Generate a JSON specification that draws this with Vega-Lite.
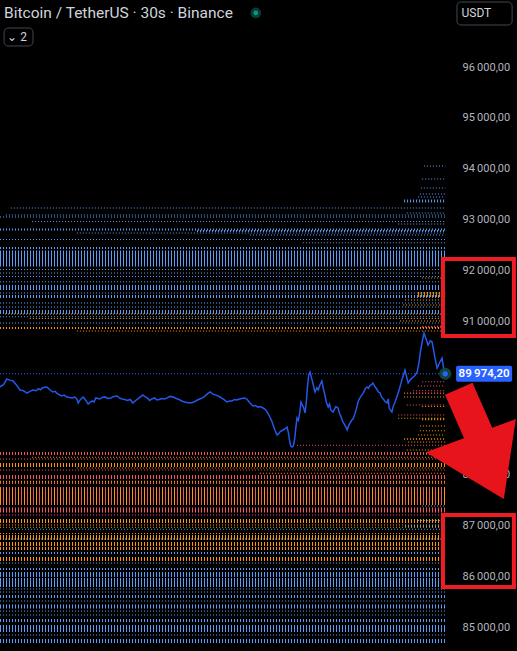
{
  "$schema": "https://vega.github.io/schema/vega-lite/v6.json",
  "width": 452,
  "height": 601,
  "autosize": "none",
  "padding": {"top": 50, "left": 0, "right": 65, "bottom": 0},
  "background": "#000000",
  "config": {
    "view": {"stroke": null},
    "locale": {"number": {"decimal": ",", "thousands": "\u2009", "grouping": [3], "currency": ["", ""]}}
  },
  "datasets": {
    "levels": [
      {"p": 94055, "d": 20, "t": 93.8, "s": "a"},
      {"p": 93800, "d": 20, "t": 93.4, "s": "a"},
      {"p": 93623, "d": 20, "t": 93.1, "s": "a"},
      {"p": 93505, "d": 20, "t": 92.9, "s": "a"},
      {"p": 93446, "d": 20, "t": 92.5, "s": "a"},
      {"p": 93368, "d": 59, "t": 89.4, "s": "a"},
      {"p": 93230, "d": 20, "t": 2.4, "s": "a"},
      {"p": 93132, "d": 20, "t": 90.0, "s": "a"},
      {"p": 93093, "d": 20, "t": 1.3, "s": "a"},
      {"p": 93054, "d": 20, "t": 0, "s": "a"},
      {"p": 92965, "d": 20, "t": 7.1, "s": "a"},
      {"p": 92916, "d": 20, "t": 88.1, "s": "a"},
      {"p": 92808, "d": 39, "t": 0, "s": "a"},
      {"p": 92779, "d": 39, "t": 43.6, "s": "a"},
      {"p": 92739, "d": 20, "t": 17.0, "s": "a"},
      {"p": 92700, "d": 20, "t": 55.3, "s": "a"},
      {"p": 92612, "d": 20, "t": 0, "s": "a"},
      {"p": 92549, "d": 20, "t": 67.0, "s": "a"},
      {"p": 92445, "d": 39, "t": 0, "s": "a"},
      {"p": 92238, "d": 314, "t": 0, "s": "a"},
      {"p": 92022, "d": 20, "t": 0, "s": "a"},
      {"p": 91954, "d": 20, "t": 0, "s": "a"},
      {"p": 91885, "d": 20, "t": 0, "s": "a"},
      {"p": 91855, "d": 20, "t": 93.4, "s": "o"},
      {"p": 91783, "d": 20, "t": 0, "s": "a"},
      {"p": 91669, "d": 98, "t": 0, "s": "a"},
      {"p": 91561, "d": 20, "t": 0, "s": "a"},
      {"p": 91531, "d": 98, "t": 92.5, "s": "o"},
      {"p": 91492, "d": 59, "t": 0, "s": "a"},
      {"p": 91423, "d": 20, "t": 89.6, "s": "o"},
      {"p": 91364, "d": 20, "t": 0, "s": "a"},
      {"p": 91325, "d": 20, "t": 89.2, "s": "o"},
      {"p": 91286, "d": 20, "t": 0, "s": "a"},
      {"p": 91187, "d": 79, "t": 0, "s": "a"},
      {"p": 91148, "d": 20, "t": 1.1, "s": "o"},
      {"p": 91095, "d": 20, "t": 0, "s": "a"},
      {"p": 91060, "d": 20, "t": 6.6, "s": "o"},
      {"p": 91011, "d": 20, "t": 88.5, "s": "o"},
      {"p": 90971, "d": 20, "t": 0, "s": "a"},
      {"p": 90899, "d": 39, "t": 93.4, "s": "r"},
      {"p": 90873, "d": 39, "t": 0, "s": "o"},
      {"p": 90814, "d": 20, "t": 17.0, "s": "o"},
      {"p": 89818, "d": 20, "t": 93.4, "s": "r"},
      {"p": 89734, "d": 20, "t": 92.5, "s": "r"},
      {"p": 89642, "d": 20, "t": 91.4, "s": "r"},
      {"p": 89590, "d": 30, "t": 89.4, "s": "r"},
      {"p": 89518, "d": 20, "t": 89.4, "s": "o"},
      {"p": 89361, "d": 20, "t": 90.0, "s": "r"},
      {"p": 89330, "d": 20, "t": 93.4, "s": "o"},
      {"p": 89164, "d": 20, "t": 88.1, "s": "r"},
      {"p": 89099, "d": 20, "t": 88.1, "s": "o"},
      {"p": 89080, "d": 39, "t": 93.4, "s": "o"},
      {"p": 88948, "d": 20, "t": 92.9, "s": "o"},
      {"p": 88856, "d": 20, "t": 92.9, "s": "o"},
      {"p": 88771, "d": 20, "t": 92.5, "s": "o"},
      {"p": 88693, "d": 30, "t": 89.4, "s": "o"},
      {"p": 88634, "d": 20, "t": 90.3, "s": "o"},
      {"p": 88569, "d": 20, "t": 65.7, "s": "r"},
      {"p": 88477, "d": 20, "t": 90.0, "s": "o"},
      {"p": 88408, "d": 59, "t": 0, "s": "r"},
      {"p": 88333, "d": 20, "t": 7.1, "s": "o"},
      {"p": 88300, "d": 20, "t": 0, "s": "r"},
      {"p": 88182, "d": 79, "t": 0, "s": "o"},
      {"p": 88123, "d": 20, "t": 17.0, "s": "o"},
      {"p": 88084, "d": 20, "t": 0, "s": "r"},
      {"p": 88019, "d": 20, "t": 57.5, "s": "o"},
      {"p": 87946, "d": 79, "t": 0, "s": "r"},
      {"p": 87854, "d": 39, "t": 0, "s": "o"},
      {"p": 87819, "d": 20, "t": 0, "s": "r"},
      {"p": 87573, "d": 354, "t": 0, "s": "m"},
      {"p": 87377, "d": 20, "t": 93.4, "s": "a"},
      {"p": 87298, "d": 98, "t": 0, "s": "r"},
      {"p": 87200, "d": 20, "t": 0, "s": "r"},
      {"p": 87082, "d": 79, "t": 0, "s": "o"},
      {"p": 87092, "d": 20, "t": 92.5, "s": "a"},
      {"p": 87003, "d": 20, "t": 0, "s": "o"},
      {"p": 86984, "d": 39, "t": 89.6, "s": "a"},
      {"p": 86958, "d": 20, "t": 0, "s": "o"},
      {"p": 86919, "d": 20, "t": 2.2, "s": "a"},
      {"p": 86837, "d": 20, "t": 0, "s": "o"},
      {"p": 86758, "d": 98, "t": 0, "s": "o"},
      {"p": 86729, "d": 20, "t": 1.1, "s": "a"},
      {"p": 86630, "d": 79, "t": 0, "s": "o"},
      {"p": 86542, "d": 59, "t": 0, "s": "o"},
      {"p": 86454, "d": 39, "t": 0, "s": "a"},
      {"p": 86336, "d": 79, "t": 0, "s": "o"},
      {"p": 86257, "d": 20, "t": 0, "s": "a"},
      {"p": 86139, "d": 39, "t": 0, "s": "a"},
      {"p": 86031, "d": 98, "t": 0, "s": "a"},
      {"p": 85874, "d": 177, "t": 0, "s": "a"},
      {"p": 85746, "d": 20, "t": 0, "s": "a"},
      {"p": 85687, "d": 20, "t": 0, "s": "a"},
      {"p": 85599, "d": 59, "t": 0, "s": "a"},
      {"p": 85511, "d": 20, "t": 0, "s": "a"},
      {"p": 85403, "d": 79, "t": 0, "s": "a"},
      {"p": 85314, "d": 20, "t": 0, "s": "a"},
      {"p": 85236, "d": 20, "t": 0, "s": "a"},
      {"p": 85128, "d": 59, "t": 0, "s": "a"},
      {"p": 84970, "d": 137, "t": 0, "s": "a"},
      {"p": 84843, "d": 20, "t": 0, "s": "a"},
      {"p": 84725, "d": 79, "t": 0, "s": "a"}
    ],
    "series": [
      {"t": 0, "p": 89720}, {"t": 0.8, "p": 89760}, {"t": 1.5, "p": 89871}, {"t": 2.2, "p": 89850},
      {"t": 2.9, "p": 89832}, {"t": 3.6, "p": 89760}, {"t": 4.4, "p": 89655}, {"t": 5.2, "p": 89640},
      {"t": 6.0, "p": 89596}, {"t": 6.6, "p": 89630}, {"t": 7.3, "p": 89655}, {"t": 8.0, "p": 89640},
      {"t": 8.5, "p": 89680}, {"t": 9.0, "p": 89660}, {"t": 9.4, "p": 89700}, {"t": 10.4, "p": 89714},
      {"t": 11.0, "p": 89660}, {"t": 11.7, "p": 89616}, {"t": 12.2, "p": 89630}, {"t": 12.6, "p": 89590},
      {"t": 13.6, "p": 89540}, {"t": 14.2, "p": 89555}, {"t": 14.8, "p": 89518}, {"t": 16.0, "p": 89500},
      {"t": 16.5, "p": 89515}, {"t": 17.0, "p": 89479}, {"t": 17.3, "p": 89400}, {"t": 17.8, "p": 89470},
      {"t": 18.4, "p": 89518}, {"t": 19.0, "p": 89450}, {"t": 19.5, "p": 89380}, {"t": 20.0, "p": 89420},
      {"t": 20.4, "p": 89440}, {"t": 20.8, "p": 89420}, {"t": 21.2, "p": 89500}, {"t": 22.1, "p": 89479},
      {"t": 22.6, "p": 89510}, {"t": 23.2, "p": 89520}, {"t": 23.8, "p": 89490}, {"t": 24.5, "p": 89500},
      {"t": 25.2, "p": 89530}, {"t": 25.9, "p": 89537}, {"t": 26.4, "p": 89500}, {"t": 27.0, "p": 89480},
      {"t": 27.6, "p": 89470}, {"t": 28.2, "p": 89450}, {"t": 28.8, "p": 89470}, {"t": 29.4, "p": 89400},
      {"t": 30.0, "p": 89450}, {"t": 30.5, "p": 89480}, {"t": 31.1, "p": 89520}, {"t": 31.6, "p": 89557},
      {"t": 32.1, "p": 89520}, {"t": 32.6, "p": 89500}, {"t": 33.1, "p": 89450}, {"t": 33.6, "p": 89480},
      {"t": 34.2, "p": 89500}, {"t": 34.7, "p": 89459}, {"t": 35.2, "p": 89470}, {"t": 35.8, "p": 89490},
      {"t": 36.4, "p": 89480}, {"t": 37.0, "p": 89500}, {"t": 37.6, "p": 89530}, {"t": 38.3, "p": 89518},
      {"t": 39.0, "p": 89490}, {"t": 39.6, "p": 89470}, {"t": 40.2, "p": 89440}, {"t": 40.8, "p": 89420},
      {"t": 41.4, "p": 89410}, {"t": 42.0, "p": 89400}, {"t": 42.6, "p": 89410}, {"t": 43.1, "p": 89430},
      {"t": 43.7, "p": 89460}, {"t": 44.2, "p": 89479}, {"t": 44.8, "p": 89500}, {"t": 45.4, "p": 89540},
      {"t": 46.0, "p": 89590}, {"t": 46.5, "p": 89616}, {"t": 47.0, "p": 89580}, {"t": 47.6, "p": 89560},
      {"t": 48.2, "p": 89540}, {"t": 48.7, "p": 89518}, {"t": 49.1, "p": 89490}, {"t": 49.5, "p": 89470},
      {"t": 50.2, "p": 89420}, {"t": 50.8, "p": 89440}, {"t": 51.3, "p": 89440}, {"t": 51.9, "p": 89470},
      {"t": 52.4, "p": 89460}, {"t": 53.0, "p": 89480}, {"t": 53.5, "p": 89490}, {"t": 54.1, "p": 89500},
      {"t": 54.6, "p": 89479}, {"t": 55.3, "p": 89400}, {"t": 56.0, "p": 89341}, {"t": 56.5, "p": 89350},
      {"t": 57.1, "p": 89320}, {"t": 57.6, "p": 89330}, {"t": 58.2, "p": 89302}, {"t": 58.6, "p": 89280},
      {"t": 59.0, "p": 89240}, {"t": 59.7, "p": 89125}, {"t": 60.1, "p": 89050}, {"t": 60.5, "p": 88950},
      {"t": 60.9, "p": 88850}, {"t": 61.3, "p": 88771}, {"t": 61.7, "p": 88800}, {"t": 62.0, "p": 88840},
      {"t": 62.4, "p": 88860}, {"t": 62.8, "p": 88880}, {"t": 63.2, "p": 88900}, {"t": 63.5, "p": 88929},
      {"t": 63.8, "p": 88820}, {"t": 64.0, "p": 88700}, {"t": 64.3, "p": 88560}, {"t": 64.6, "p": 88536},
      {"t": 64.9, "p": 88560}, {"t": 65.2, "p": 88700}, {"t": 65.5, "p": 88950}, {"t": 65.7, "p": 89105},
      {"t": 66.0, "p": 89060}, {"t": 66.3, "p": 89200}, {"t": 66.6, "p": 89420}, {"t": 66.8, "p": 89380},
      {"t": 67.2, "p": 89300}, {"t": 67.5, "p": 89204}, {"t": 67.8, "p": 89450}, {"t": 68.0, "p": 89700},
      {"t": 68.3, "p": 89950}, {"t": 68.6, "p": 90009}, {"t": 68.9, "p": 89900}, {"t": 69.2, "p": 89800},
      {"t": 69.5, "p": 89680}, {"t": 69.7, "p": 89616}, {"t": 70.1, "p": 89700}, {"t": 70.4, "p": 89660},
      {"t": 70.8, "p": 89760}, {"t": 71.2, "p": 89832}, {"t": 71.5, "p": 89700}, {"t": 71.9, "p": 89550},
      {"t": 72.2, "p": 89420}, {"t": 72.6, "p": 89321}, {"t": 72.9, "p": 89380}, {"t": 73.2, "p": 89260},
      {"t": 73.7, "p": 89223}, {"t": 74.0, "p": 89280}, {"t": 74.3, "p": 89330}, {"t": 74.8, "p": 89302},
      {"t": 75.1, "p": 89200}, {"t": 75.5, "p": 89120}, {"t": 75.8, "p": 89040}, {"t": 76.2, "p": 88980},
      {"t": 76.5, "p": 88930}, {"t": 76.8, "p": 88870}, {"t": 77.1, "p": 88950}, {"t": 77.4, "p": 89000},
      {"t": 77.8, "p": 89060}, {"t": 78.1, "p": 89086}, {"t": 78.5, "p": 89180}, {"t": 78.9, "p": 89300},
      {"t": 79.2, "p": 89420}, {"t": 79.6, "p": 89498}, {"t": 80.0, "p": 89550}, {"t": 80.4, "p": 89600},
      {"t": 80.8, "p": 89680}, {"t": 81.2, "p": 89714}, {"t": 81.5, "p": 89690}, {"t": 81.9, "p": 89750},
      {"t": 82.2, "p": 89760}, {"t": 82.5, "p": 89793}, {"t": 82.9, "p": 89730}, {"t": 83.3, "p": 89680},
      {"t": 83.7, "p": 89620}, {"t": 84.1, "p": 89596}, {"t": 84.4, "p": 89520}, {"t": 84.8, "p": 89480},
      {"t": 85.2, "p": 89430}, {"t": 85.6, "p": 89400}, {"t": 85.9, "p": 89480}, {"t": 86.1, "p": 89300},
      {"t": 86.4, "p": 89260}, {"t": 86.7, "p": 89223}, {"t": 87.0, "p": 89330}, {"t": 87.4, "p": 89420},
      {"t": 87.7, "p": 89500}, {"t": 88.1, "p": 89596}, {"t": 88.5, "p": 89720}, {"t": 88.9, "p": 89850},
      {"t": 89.3, "p": 89960}, {"t": 89.6, "p": 90048}, {"t": 90.0, "p": 89900}, {"t": 90.3, "p": 89793},
      {"t": 90.8, "p": 89860}, {"t": 91.3, "p": 89900}, {"t": 91.8, "p": 89940}, {"t": 92.3, "p": 90009},
      {"t": 92.7, "p": 90200}, {"t": 93.0, "p": 90400}, {"t": 93.4, "p": 90600}, {"t": 93.8, "p": 90775},
      {"t": 94.3, "p": 90650}, {"t": 94.7, "p": 90539}, {"t": 95.2, "p": 90620}, {"t": 95.6, "p": 90598},
      {"t": 96.2, "p": 90300}, {"t": 96.7, "p": 90087}, {"t": 97.3, "p": 90200}, {"t": 97.8, "p": 90284},
      {"t": 98.2, "p": 90050}, {"t": 98.5, "p": 89974.2}
    ]
  },
  "layer": [
    {
      "data": {"name": "levels"},
      "mark": {"type": "rule", "strokeDash": [1, 2]},
      "encoding": {
        "x": {"field": "t", "type": "quantitative", "scale": {"domain": [0, 100], "nice": false, "zero": false}, "axis": null},
        "x2": {"datum": 98.5},
        "y": {"field": "p", "type": "quantitative",
          "scale": {"domain": [84529, 96334], "nice": false, "zero": false},
          "axis": {"orient": "right", "title": null, "values": [85000, 86000, 87000, 88000, 91000, 92000, 93000, 94000, 95000, 96000],
            "format": ",.2f", "domain": false, "ticks": false, "grid": false, "labelColor": "#b2b5be", "labelFont": "Roboto", "labelFontSize": 11, "labelPadding": 10}},
        "size": {"field": "d", "type": "quantitative", "scale": {"type": "linear", "domain": [0, 1000], "range": [0, 50.91]}, "legend": null},
        "color": {"field": "s", "type": "nominal", "scale": {"domain": ["a", "o", "r", "m"], "range": ["#5b9cf6", "#ff9800", "#f7525f", "#f7525f"]}, "legend": null}
      }
    },
    {
      "data": {"name": "levels"},
      "transform": [{"filter": "datum.s === 'm'"}],
      "mark": {"type": "rule", "strokeDash": [1, 5], "color": "#ff9800"},
      "encoding": {
        "x": {"field": "t", "type": "quantitative"},
        "x2": {"datum": 98.5},
        "y": {"field": "p", "type": "quantitative"},
        "size": {"field": "d", "type": "quantitative"}
      }
    },
    {
      "data": {"values": [{"t": 0, "p": 89974.2}]},
      "mark": {"type": "rule", "strokeDash": [1, 2], "color": "#2962ff", "strokeWidth": 1},
      "encoding": {
        "x": {"field": "t", "type": "quantitative"},
        "x2": {"datum": 98.5},
        "y": {"field": "p", "type": "quantitative"}
      }
    },
    {
      "data": {"name": "series"},
      "mark": {"type": "line", "color": "#2458e8", "strokeWidth": 1.5},
      "encoding": {
        "x": {"field": "t", "type": "quantitative"},
        "y": {"field": "p", "type": "quantitative"}
      }
    },
    {
      "data": {"values": [{"t": 98.5, "p": 89974.2}]},
      "layer": [
        {"mark": {"type": "point", "filled": true, "size": 150, "color": "#134a42", "opacity": 0.9}},
        {"mark": {"type": "point", "filled": true, "size": 28, "color": "#2962ff", "opacity": 1}}
      ],
      "encoding": {
        "x": {"field": "t", "type": "quantitative"},
        "y": {"field": "p", "type": "quantitative"}
      }
    },
    {
      "data": {"values": [{"t": 100.9, "t2": 113.3, "p": 90131, "p2": 89817}]},
      "mark": {"type": "rect", "color": "#2962ff", "cornerRadius": 2, "clip": false},
      "encoding": {
        "x": {"field": "t", "type": "quantitative"},
        "x2": {"field": "t2"},
        "y": {"field": "p", "type": "quantitative"},
        "y2": {"field": "p2"}
      }
    },
    {
      "data": {"values": [{"t": 107.1, "p": 89974.2}]},
      "mark": {"type": "text", "color": "#ffffff", "font": "Roboto", "fontSize": 11.5, "fontWeight": 600, "align": "center", "baseline": "middle"},
      "encoding": {
        "x": {"field": "t", "type": "quantitative"},
        "y": {"field": "p", "type": "quantitative"},
        "text": {"field": "p", "type": "quantitative", "format": ",.2f"}
      }
    },
    {
      "data": {"values": [
        {"t": 101.1, "t2": 113.3, "p": 97277, "p2": 96825, "k": "usdt"},
        {"t": 0.9, "t2": 7.3, "p": 96766, "p2": 96413, "k": "int"}
      ]},
      "mark": {"type": "rect", "fill": "#000000", "stroke": "#434651", "strokeWidth": 1, "cornerRadius": 4, "clip": false},
      "encoding": {
        "x": {"field": "t", "type": "quantitative"},
        "x2": {"field": "t2"},
        "y": {"field": "p", "type": "quantitative"},
        "y2": {"field": "p2"}
      }
    },
    {
      "data": {"values": [
        {"t": 0.9, "p": 97061, "label": "Bitcoin / TetherUS \u00b7 30s \u00b7 Binance", "k": "title"},
        {"t": 1.6, "p": 96590, "label": "\u2304 2", "k": "int"},
        {"t": 102.1, "p": 97051, "label": "USDT", "k": "unit"}
      ]},
      "mark": {"type": "text", "align": "left", "baseline": "middle", "font": "Roboto", "color": "#d1d4dc", "clip": false},
      "encoding": {
        "x": {"field": "t", "type": "quantitative"},
        "y": {"field": "p", "type": "quantitative"},
        "text": {"field": "label"},
        "size": {"condition": {"test": "datum.k === 'title'", "value": 15.5}, "value": 12}
      }
    },
    {
      "data": {"values": [{"t": 56.6, "p": 97061}]},
      "mark": {"type": "point", "filled": true, "size": 60, "color": "#089981", "stroke": "#0c3a33", "strokeWidth": 3, "strokeOpacity": 1, "opacity": 1, "clip": false},
      "encoding": {
        "x": {"field": "t", "type": "quantitative"},
        "y": {"field": "p", "type": "quantitative"}
      }
    },
    {
      "data": {"values": [
        {"t": 98.0, "t2": 113.7, "p": 92229, "p2": 90716},
        {"t": 98.0, "t2": 113.7, "p": 87200, "p2": 85786}
      ]},
      "mark": {"type": "rect", "fillOpacity": 0, "stroke": "#ee1c25", "strokeWidth": 4, "clip": false},
      "encoding": {
        "x": {"field": "t", "type": "quantitative"},
        "x2": {"field": "t2"},
        "y": {"field": "p", "type": "quantitative"},
        "y2": {"field": "p2"}
      }
    },
    {
      "data": {"values": [{"t": 101.5, "t2": 107.3, "p": 89680, "p2": 88500}]},
      "mark": {"type": "rule", "color": "#e8141c", "strokeWidth": 30, "strokeCap": "butt", "clip": false},
      "encoding": {
        "x": {"field": "t", "type": "quantitative"},
        "x2": {"field": "t2"},
        "y": {"field": "p", "type": "quantitative"},
        "y2": {"field": "p2"}
      }
    },
    {
      "data": {"values": [{"t": 106.6, "p": 88339}]},
      "mark": {"type": "point", "filled": true, "color": "#e8141c", "opacity": 1, "size": 6400, "shape": "M -1.4 -0.12 L 0.85 -0.95 L 0.55 1.05 Z", "clip": false},
      "encoding": {
        "x": {"field": "t", "type": "quantitative"},
        "y": {"field": "p", "type": "quantitative"}
      }
    }
  ]
}
